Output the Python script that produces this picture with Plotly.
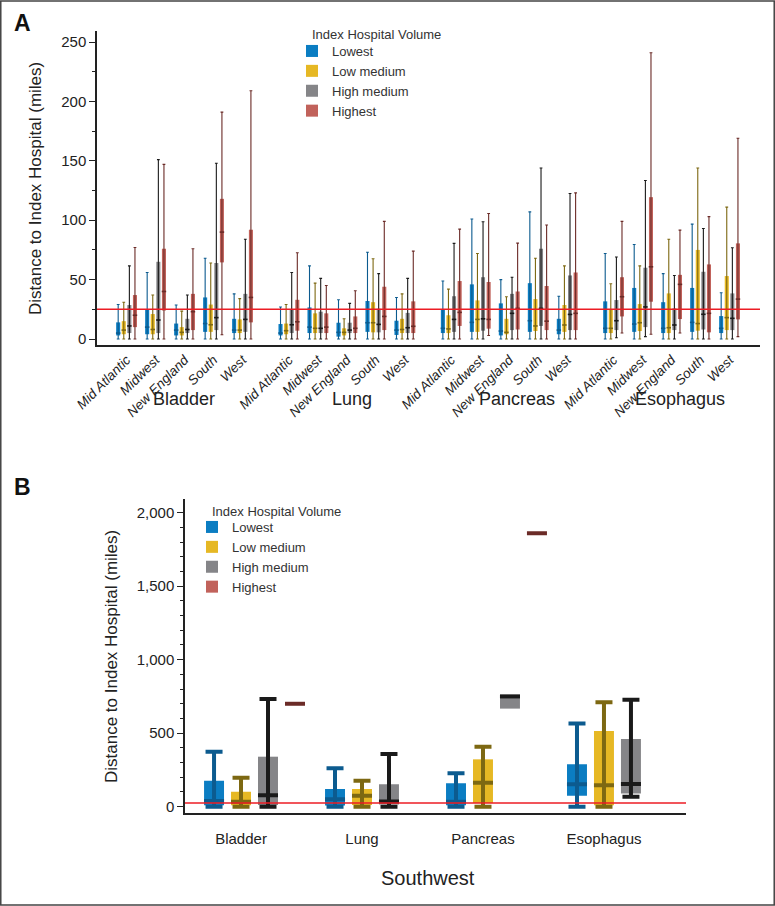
import plotly.graph_objects as go

W, H = 775, 906

cancers = ["Bladder", "Lung", "Pancreas", "Esophagus"]
regions = ["Mid Atlantic", "Midwest", "New England", "South", "West"]
volumes = ["Lowest", "Low medium", "High medium", "Highest"]
reference_miles = 25

# ---------------- Panel A (order: cancer-major, region-minor) ----------------
a_lowest_min = [0, 0, 0, 0, 0, 0, 0, 0, 0, 0, 0, 0, 0, 0, 0, 0, 0, 0, 0, 0]
a_lowest_q1 = [3, 4, 3, 6, 5, 3, 5, 2, 6, 3.4, 5, 6, 3, 6, 4, 5, 6, 5, 6, 5]
a_lowest_med = [5, 10, 7.5, 13, 7.5, 5, 10, 5.6, 13.7, 7.5, 9, 14, 6.7, 15.4, 7.5, 9, 12.6, 9, 14, 9]
a_lowest_q3 = [14, 25, 13, 35, 17, 12.6, 26.6, 13.7, 32, 15.4, 25, 46, 30, 47, 17, 31.7, 43, 31, 43, 19.3]
a_lowest_max = [29, 56, 28.6, 68, 38, 27, 61.6, 33, 73, 35, 48.8, 101, 50, 107, 36, 72, 79.6, 55, 96.7, 39]

a_lowmed_min = [0, 0, 0, 0, 0, 0, 0, 0, 0, 0, 0, 0, 0, 0, 0, 0, 0, 0, 0, 0]
a_lowmed_q1 = [4, 4, 3, 6, 5, 4, 5, 3, 5.6, 5, 5, 6, 4, 6.7, 6, 5, 6.7, 5, 7, 7.5]
a_lowmed_med = [7.5, 8, 5.6, 12, 7.5, 7, 9, 5.6, 13.7, 8, 8.5, 16.5, 5.6, 11, 11.8, 9, 13.7, 9.5, 13, 18]
a_lowmed_q3 = [15, 21, 10, 29, 16.5, 13, 21.6, 9, 31, 17, 20, 32.5, 17, 33.6, 28.6, 25, 29.4, 38.4, 75, 53]
a_lowmed_max = [31, 37, 23.5, 64, 34, 29, 47, 17, 67.5, 38, 42, 72, 35.6, 68, 61.6, 46.5, 61.6, 84, 144, 111]

a_highmed_min = [0, 0, 0, 0, 0, 0, 0, 0, 0, 0, 0, 0, 0, 0, 0, 1, 2, 0, 0, 0]
a_highmed_q1 = [5, 5, 5, 7.5, 6, 5, 5, 5, 5.6, 5, 6, 7, 7.5, 11, 7.5, 7.5, 10, 7.5, 8, 7.5]
a_highmed_med = [11, 16, 8, 18, 16.5, 12, 9, 7.5, 12.3, 9.5, 16.5, 17, 21.6, 25.8, 20.7, 15.4, 27, 11.8, 20.8, 17.4]
a_highmed_q3 = [28.6, 65, 17, 64, 38, 25, 23, 13.7, 25.5, 22, 36, 52, 38, 76, 53.5, 32.8, 60, 25.8, 56.6, 38.4]
a_highmed_max = [61.6, 151, 37, 148, 84, 56, 51, 30, 55, 51, 80.5, 98.7, 52, 144, 122.5, 69, 133.5, 53.5, 93, 76.8]

a_highest_min = [0, 0, 0, 3.6, 0, 0, 0, 0, 0, 0, 0, 3, 0, 0, 0, 5, 4, 5, 0, 2]
a_highest_q1 = [10, 24, 7.5, 64.5, 14, 7, 5, 5, 7.5, 5, 11, 8.7, 8, 7.5, 7.5, 19, 31.4, 16.8, 5.6, 16.5]
a_highest_med = [20, 40, 23, 90, 35, 14.5, 10, 9, 19, 10.7, 22.4, 16.5, 25.8, 15, 21.6, 35.6, 60.8, 46, 21.6, 33.6]
a_highest_q3 = [37, 76, 38, 118, 92, 33, 21.6, 19, 44, 31.7, 48.8, 48, 40, 44.6, 56, 52, 119.4, 54, 62.8, 80.5]
a_highest_max = [77, 147, 76, 191, 209, 72.6, 45, 40.6, 99, 74, 92.5, 105.7, 80.7, 96, 123, 99, 241, 91.7, 103, 169]

# ---------------- Panel B: Southwest (order: cancers) ----------------
b_lowest_min = [0, 0, 0, 0]
b_lowest_q1 = [10, 8, 10, 75]
b_lowest_med = [39, 50, 34, 152]
b_lowest_q3 = [177, 120, 159, 288]
b_lowest_max = [374, 261, 227, 565]

b_lowmed_min = [0, 0, 0, 0]
b_lowmed_q1 = [10, 12, 25, 10]
b_lowmed_med = [34, 75, 163, 145]
b_lowmed_q3 = [102, 120, 322, 515]
b_lowmed_max = [197, 177, 408, 710]

b_highmed_min = [0, 0, None, 68]
b_highmed_q1 = [12, 15, 667, 90]
b_highmed_med = [77, 35, 750, 154]
b_highmed_q3 = [340, 152, 762, 460]
b_highmed_max = [733, 358, None, 728]

b_highest_min = [None, None, None, None]
b_highest_q1 = [700, None, 1860, None]
b_highest_med = [700, None, 1860, None]
b_highest_q3 = [700, None, 1860, None]
b_highest_max = [None, None, None, None]

fills = ["#0b7dc2", "#e6b824", "#858588", "#c1625b"]
darks = ["#0c5b8f", "#7d6812", "#1a1a1a", "#6b2b27"]

A = [
    (a_lowest_min, a_lowest_q1, a_lowest_med, a_lowest_q3, a_lowest_max),
    (a_lowmed_min, a_lowmed_q1, a_lowmed_med, a_lowmed_q3, a_lowmed_max),
    (a_highmed_min, a_highmed_q1, a_highmed_med, a_highmed_q3, a_highmed_max),
    (a_highest_min, a_highest_q1, a_highest_med, a_highest_q3, a_highest_max),
]
B = [
    (b_lowest_min, b_lowest_q1, b_lowest_med, b_lowest_q3, b_lowest_max),
    (b_lowmed_min, b_lowmed_q1, b_lowmed_med, b_lowmed_q3, b_lowmed_max),
    (b_highmed_min, b_highmed_q1, b_highmed_med, b_highmed_q3, b_highmed_max),
    (b_highest_min, b_highest_q1, b_highest_med, b_highest_q3, b_highest_max),
]

GROUP_STEP_A = 5.6
OFF_A, BOXW_A = 0.193, 0.14
OFF_B, BOXW_B = 0.223, 0.165

xA_center = [ci * GROUP_STEP_A + ri for ci in range(len(cancers)) for ri in range(len(regions))]
xB_center = list(range(len(cancers)))

fig = go.Figure()


def add_boxes(xc, stats, off, shift, boxw, xa, ya, legend, whisk_t, cap_w, med_size, med_w):
    for k, (mn, q1, md, q3, mx) in enumerate(stats):
        xs = [x + (k - shift) * off for x in xc]
        wy, ep, em = [], [], []
        for lo, m, hi in zip(mn, md, mx):
            if lo is None or hi is None or m is None:
                wy.append(None); ep.append(0); em.append(0)
            else:
                wy.append(m); ep.append(hi - m); em.append(m - lo)
        fig.add_trace(go.Scatter(
            x=xs, y=wy, mode="markers", xaxis=xa, yaxis=ya,
            marker=dict(size=1, opacity=0), showlegend=False, hoverinfo="skip",
            error_y=dict(type="data", symmetric=False, array=ep, arrayminus=em,
                         color=darks[k], thickness=whisk_t, width=cap_w)))
        heights = [None if (a is None or b is None) else b - a for a, b in zip(q1, q3)]
        fig.add_trace(go.Bar(
            x=xs, y=heights, base=q1, width=boxw, xaxis=xa, yaxis=ya,
            marker=dict(color=fills[k], line=dict(width=0)),
            name=volumes[k], legend=legend, showlegend=True, legendgroup=legend + str(k)))
        fig.add_trace(go.Scatter(
            x=xs, y=md, mode="markers", xaxis=xa, yaxis=ya, showlegend=False,
            marker=dict(symbol="line-ew", size=med_size, color=darks[k],
                        line=dict(color=darks[k], width=med_w)),
            hoverinfo="skip"))


add_boxes(xA_center, A, OFF_A, 1.5, BOXW_A, "x", "y", "legend", 1.1, 1.4, 3.2, 1.6)
add_boxes(xB_center, B, OFF_B, 1.0, BOXW_B, "x2", "y2", "legend2", 4, 8.5, 14.3, 4)

base_font = "Liberation Sans, Arial, sans-serif"
title_font = "Liberation Sans, Arial, sans-serif"

def px_x(p):
    return p / W

def px_y(p):
    return 1 - p / H

fig.update_layout(
    width=W, height=H, autosize=False,
    margin=dict(l=0, r=0, t=0, b=0),
    paper_bgcolor="white", plot_bgcolor="white",
    barmode="overlay",
    font=dict(family=base_font, color="#222", size=14),
    xaxis=dict(domain=[px_x(97), px_x(760)], range=[-1.02, 21.85], anchor="y",
               tickvals=xA_center, ticktext=regions * len(cancers),
               tickangle=-45, tickfont=dict(size=13.5, style="italic", color="#222"),
               ticks="", showline=True, linecolor="#222", linewidth=1.5,
               showgrid=False, zeroline=False, automargin=False),
    yaxis=dict(domain=[px_y(345), px_y(31)], range=[-5.05, 259.3], anchor="x",
               tickvals=[0, 50, 100, 150, 200, 250], ticks="outside", ticklen=6,
               tickcolor="#222", tickfont=dict(size=15, color="#222"),
               minor=dict(dtick=25, tick0=0, ticks="outside", ticklen=3, tickcolor="#222"),
               showline=True, linecolor="#222", linewidth=1.5,
               showgrid=False, zeroline=False, automargin=False),
    xaxis2=dict(domain=[px_x(185), px_x(686)], range=[-0.463, 3.678], anchor="y2",
                tickvals=xB_center, ticktext=cancers, ticks="", ticklabelstandoff=12,
                tickfont=dict(size=15, color="#222"),
                showline=True, linecolor="#222", linewidth=1.5,
                showgrid=False, zeroline=False, automargin=False),
    yaxis2=dict(domain=[px_y(812.7), px_y(499)], range=[-41, 2093], anchor="x2",
                tickvals=[0, 500, 1000, 1500, 2000], tickformat=",", ticks="outside",
                ticklen=6, tickcolor="#222", tickfont=dict(size=15, color="#222"),
                minor=dict(dtick=100, tick0=0, ticks="outside", ticklen=3, tickcolor="#222"),
                showline=True, linecolor="#222", linewidth=1.5,
                showgrid=False, zeroline=False, automargin=False),
    legend=dict(x=px_x(292), y=px_y(36), xanchor="left", yanchor="top",
                font=dict(size=13, color="#333"), bgcolor="rgba(0,0,0,0)",
                tracegroupgap=0, itemclick=False),
    legend2=dict(x=px_x(192), y=px_y(512), xanchor="left", yanchor="top",
                 font=dict(size=13, color="#333"), bgcolor="rgba(0,0,0,0)",
                 tracegroupgap=0, itemclick=False),
)

# reference line (25 miles) in both panels
for ya, xa in (("y", "x"), ("y2", "x2")):
    fig.add_shape(type="line", xref=xa + " domain", yref=ya, x0=0, x1=1,
                  y0=reference_miles, y1=reference_miles,
                  line=dict(color="#ec1c24", width=1.6), layer="above")

# frame
fig.add_shape(type="rect", xref="paper", yref="paper", x0=0.001, x1=0.999, y0=0.001, y1=0.999,
              line=dict(color="#444", width=1.5), fillcolor="rgba(0,0,0,0)")

ann = []
ann.append(dict(text="<b>A</b>", x=px_x(12), y=px_y(23), xanchor="left", yanchor="middle",
                font=dict(size=23, color="#111", family=base_font)))
ann.append(dict(text="<b>B</b>", x=px_x(12), y=px_y(487), xanchor="left", yanchor="middle",
                font=dict(size=23, color="#111", family=base_font)))
ann.append(dict(text="Distance to Index Hospital (miles)", x=px_x(35), y=px_y(189),
                textangle=-90, xanchor="center", yanchor="middle",
                font=dict(size=17, color="#222", family=title_font)))
ann.append(dict(text="Distance to Index Hospital (miles)", x=px_x(111), y=px_y(657),
                textangle=-90, xanchor="center", yanchor="middle",
                font=dict(size=17, color="#222", family=title_font)))
ann.append(dict(text="Index Hospital Volume", x=px_x(310), y=px_y(35), xanchor="left",
                yanchor="middle", font=dict(size=13, color="#333")))
ann.append(dict(text="Index Hospital Volume", x=px_x(210), y=px_y(511), xanchor="left",
                yanchor="middle", font=dict(size=13, color="#333")))
group_label_px = [184, 352, 517, 680]
for c, gx in zip(cancers, group_label_px):
    ann.append(dict(text=c, x=px_x(gx), y=px_y(399),
                    xanchor="center", yanchor="middle",
                    font=dict(size=18, color="#222", family=title_font)))
ann.append(dict(text="Southwest", x=px_x(428), y=px_y(878), xanchor="center", yanchor="middle",
                font=dict(size=20, color="#222", family=title_font)))
for a in ann:
    a.setdefault("xref", "paper")
    a.setdefault("yref", "paper")
    a["showarrow"] = False
fig.update_layout(annotations=ann)

fig.write_html("out.html", config={"displayModeBar": False},
               post_script="document.body.style.margin='0';document.body.style.overflow='hidden';")
